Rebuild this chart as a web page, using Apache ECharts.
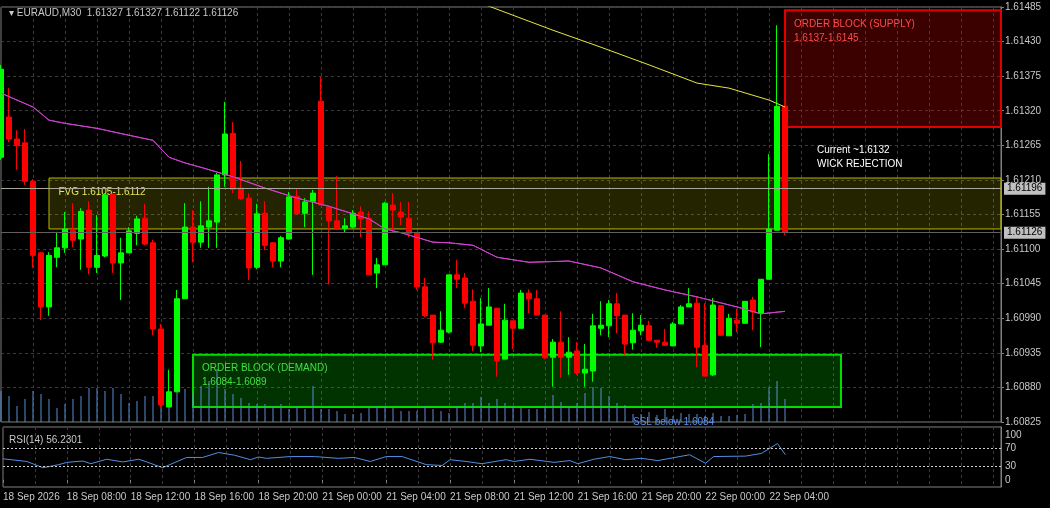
<!DOCTYPE html>
<html><head><meta charset="utf-8">
<script src="https://cdn.jsdelivr.net/npm/echarts@6/dist/echarts.min.js"></script>
<style>html,body{margin:0;padding:0;background:#000;}#c{width:1050px;height:508px;}</style>
</head><body><div id="c"></div>
<script>
// Candles: [open, close, low, high]
const candles = [
[1.61246,1.61386,1.61242,1.61393],[1.61310,1.61275,1.61270,1.61356],[1.61275,1.61265,1.61226,1.61289],[1.61269,1.61208,1.61202,1.61291],
[1.61208,1.61090,1.61070,1.61211],[1.61094,1.61008,1.60987,1.61095],[1.61008,1.61090,1.60994,1.61095],[1.61087,1.61102,1.61071,1.61127],
[1.61102,1.61132,1.61094,1.61159],[1.61130,1.61114,1.61103,1.61173],[1.61116,1.61160,1.61067,1.61165],[1.61162,1.61071,1.61060,1.61176],
[1.61071,1.61090,1.61062,1.61154],[1.61089,1.61186,1.61087,1.61189],[1.61187,1.61078,1.61062,1.61189],[1.61078,1.61094,1.61019,1.61118],
[1.61094,1.61129,1.61103,1.61135],[1.61125,1.61148,1.61106,1.61153],[1.61149,1.61108,1.61106,1.61172],[1.61110,1.60973,1.60963,1.61115],
[1.60973,1.60852,1.60849,1.60981],[1.60849,1.60873,1.60849,1.60908],[1.60873,1.61021,1.60873,1.61035],[1.61021,1.61135,1.61021,1.61173],
[1.61135,1.61111,1.61079,1.61162],[1.61111,1.61137,1.61102,1.61176],[1.61135,1.61145,1.61102,1.61199],[1.61143,1.61218,1.61102,1.61221],
[1.61218,1.61283,1.61199,1.61334],[1.61284,1.61195,1.61189,1.61302],[1.61197,1.61180,1.61178,1.61240],[1.61181,1.61070,1.61051,1.61189],
[1.61071,1.61156,1.61068,1.61172],[1.61157,1.61106,1.61098,1.61176],[1.61110,1.61081,1.61071,1.61111],[1.61081,1.61118,1.61071,1.61121],
[1.61116,1.61183,1.61115,1.61191],[1.61184,1.61156,1.61156,1.61195],[1.61157,1.61175,1.61135,1.61181],[1.61176,1.61189,1.61059,1.61194],
[1.61335,1.61170,1.61170,1.61374],[1.61167,1.61145,1.61044,1.61170],[1.61145,1.61133,1.61133,1.61216],[1.61133,1.61137,1.61127,1.61149],
[1.61135,1.61157,1.61133,1.61162],[1.61159,1.61148,1.61119,1.61168],[1.61149,1.61059,1.61059,1.61160],[1.61062,1.61075,1.61038,1.61086],
[1.61075,1.61173,1.61075,1.61175],[1.61170,1.61162,1.61127,1.61189],[1.61159,1.61151,1.61138,1.61175],[1.61149,1.61125,1.61119,1.61175],
[1.61125,1.61040,1.61035,1.61127],[1.61040,1.60994,1.60992,1.61054],[1.60995,1.60951,1.60924,1.60995],[1.60952,1.60971,1.60951,1.61001],
[1.60968,1.61059,1.60966,1.61059],[1.61059,1.61052,1.61038,1.61083],[1.61054,1.61014,1.61006,1.61062],[1.61017,1.60947,1.60938,1.61036],
[1.60946,1.60981,1.60936,1.61022],[1.60979,1.61008,1.60979,1.61038],[1.61006,1.60922,1.60897,1.61006],[1.60925,1.60987,1.60925,1.61013],
[1.60986,1.60974,1.60941,1.60986],[1.60974,1.61030,1.60974,1.61035],[1.61030,1.61021,1.60998,1.61036],[1.61021,1.60995,1.60995,1.61035],
[1.60995,1.60927,1.60925,1.60995],[1.60928,1.60952,1.60881,1.60957],[1.60952,1.60928,1.60895,1.61001],[1.60928,1.60936,1.60900,1.60960],
[1.60938,1.60903,1.60900,1.60952],[1.60903,1.60909,1.60881,1.60949],[1.60906,1.60978,1.60889,1.60997],[1.60974,1.60979,1.60963,1.61017],
[1.60978,1.61013,1.60960,1.61019],[1.61013,1.60994,1.60966,1.61030],[1.60995,1.60949,1.60932,1.60995],[1.60951,1.60971,1.60940,1.60998],
[1.60970,1.60979,1.60963,1.60995],[1.60978,1.60955,1.60955,1.60986],[1.60955,1.60952,1.60943,1.60955],[1.60952,1.60947,1.60946,1.60973],
[1.60946,1.60981,1.60946,1.60984],[1.60981,1.61008,1.60981,1.61011],[1.61008,1.61013,1.61008,1.61038],[1.61014,1.60944,1.60912,1.61024],
[1.60947,1.60898,1.60897,1.61014],[1.60900,1.61011,1.60898,1.61022],[1.61010,1.60963,1.60962,1.61010],[1.60962,1.60990,1.60962,1.60997],
[1.60987,1.60982,1.60968,1.61005],[1.60982,1.61017,1.60982,1.61017],[1.61019,1.61000,1.60971,1.61024],[1.60998,1.61052,1.60944,1.61052],
[1.61052,1.61132,1.61052,1.61251],[1.61130,1.61327,1.61130,1.61456],[1.61327,1.61126,1.61122,1.61327]
];
const volumes = [31,26,16,23,31,28,23,14,18,23,26,34,34,31,34,28,19,21,26,26,36,31,33,33,29,36,41,53,33,28,24,19,18,18,16,18,13,16,13,36,13,13,11,8,8,9,14,16,16,14,11,11,11,16,13,11,9,16,19,19,25,19,23,19,16,15,13,13,16,27,20,16,19,29,35,34,26,19,17,8,8,10,7,13,6,9,8,8,6,9,6,6,7,8,18,19,35,41,23];
// [bar index, value]
const maFast = [[0,1.61348],[4,1.61326],[6,1.61305],[8,1.61300],[12,1.61292],[16,1.61281],[19,1.61273],[21,1.61246],[23,1.61237],[25,1.61230],[29,1.61215],[33,1.61197],[37,1.61181],[41,1.61168],[46,1.61148],[48,1.61132],[50,1.61126],[54,1.61111],[56,1.61110],[59,1.61106],[62,1.61087],[66,1.61079],[71,1.61081],[75,1.61070],[79,1.61048],[83,1.61035],[87,1.61024],[92,1.61008],[95,1.60997],[98,1.61001]];
const maSlow = [[60,1.61491],[69,1.61448],[75,1.61421],[81,1.61393],[87,1.61364],[91,1.61356],[96,1.61337],[98,1.61326]];
const rsi = [[0,47],[3,41],[5,27],[7,34],[8,39],[10,42],[11,36],[13,46],[15,40],[17,46],[18,40],[20,27],[23,50],[25,50],[27,61],[29,55],[31,45],[32,51],[33,48],[36,52],[39,52],[42,48],[44,50],[46,41],[48,52],[50,52],[53,34],[55,32],[56,45],[58,41],[60,36],[63,45],[64,41],[66,46],[69,39],[71,43],[72,36],[74,46],[76,52],[78,45],[80,48],[82,43],[86,56],[88,37],[89,52],[93,53],[95,59],[97,81],[98,56]];
const timeLabels = ['18 Sep 2026','18 Sep 08:00','18 Sep 12:00','18 Sep 16:00','18 Sep 20:00','21 Sep 00:00','21 Sep 04:00','21 Sep 08:00','21 Sep 12:00','21 Sep 16:00','21 Sep 20:00','22 Sep 00:00','22 Sep 04:00'];
const priceTicks = {min:1.60825, max:1.61485, step:0.00055};
const supplyZone = {x:[98,125], y:[1.61294,1.61480], text:'ORDER BLOCK (SUPPLY)\n1.6137-1.6145'};
const fvgZone = {x:[6,125], y:[1.61132,1.61213], text:'FVG 1.6105-1.6112'};
const demandZone = {x:[24,105], y:[1.60849,1.60932], text:'ORDER BLOCK (DEMAND)\n1.6084-1.6089'};
const levels = [1.61196, 1.61126];
const noteCurrent = {x:102, y:1.61269, text:'Current ~1.6132\nWICK REJECTION'};
const noteSSL = {x:79, y:1.60833, text:'SSL below 1.6084'};

const NB = 126;
const cats = [];
for (let i=0;i<NB;i++) cats.push(i%8===0 && timeLabels[i/8] ? timeLabels[i/8] : '');
const F = 'Liberation Sans';
const grid = '#3a3a3a';
const chart = echarts.init(document.getElementById('c'));
const zone = (z, fill, border, bw, color) => [{xAxis:z.x[0], yAxis:z.y[1],
  itemStyle:{color:fill, borderColor:border, borderWidth:bw},
  label:{show:true, position:'insideTopLeft', distance:5, padding:[3,5], color:color, fontSize:10, fontFamily:F, lineHeight:14, formatter:z.text}},
  {xAxis:z.x[1], yAxis:z.y[0]}];
chart.setOption({
  backgroundColor:'#000', animation:false,
  title:[
    {text:'▾ EURAUD,M30  1.61327 1.61327 1.61122 1.61126', left:4, top:3, textStyle:{color:'#c8c8c8', fontSize:10, fontWeight:'normal', fontFamily:F}},
    {text:'RSI(14) 56.2301', left:4, top:430, textStyle:{color:'#c8c8c8', fontSize:10, fontWeight:'normal', fontFamily:F}}
  ],
  grid:[
    {left:1, right:49, top:7, height:415, show:true, borderColor:'#808080', borderWidth:1},
    {left:1, right:49, top:427, height:60, show:true, borderColor:'#808080', borderWidth:1}
  ],
  xAxis:[
    {type:'category', gridIndex:0, data:cats, boundaryGap:false, axisLabel:{show:false}, axisTick:{show:false}, axisLine:{show:false},
     splitLine:{show:true, interval:(i)=>i%4===0, lineStyle:{color:grid, type:[3,3]}}},
    {type:'category', gridIndex:1, data:cats, boundaryGap:false, axisLine:{show:false},
     axisTick:{show:true, interval:(i,v)=>v!=='', length:3, lineStyle:{color:'#808080'}},
     axisLabel:{show:true, interval:(i,v)=>v!=='', align:'left', hideOverlap:false, color:'#c8c8c8', fontSize:10, fontFamily:F, margin:5},
     splitLine:{show:true, interval:(i)=>i%4===0, lineStyle:{color:grid, type:[3,3]}}}
  ],
  yAxis:[
    {type:'value', gridIndex:0, position:'right', min:priceTicks.min, max:priceTicks.max, interval:priceTicks.step, scale:true,
     axisLine:{show:true, lineStyle:{color:'#808080'}}, axisTick:{show:true, length:3, lineStyle:{color:'#808080'}},
     axisLabel:{color:'#c8c8c8', fontSize:10, fontFamily:F, margin:4, formatter:v=>v.toFixed(5)},
     splitLine:{show:true, lineStyle:{color:grid, type:[3,3]}}},
    {type:'value', gridIndex:0, min:0, max:415, show:false, splitLine:{show:false}},
    {type:'value', gridIndex:1, position:'right', min:-16, max:118,
     axisLine:{show:true, lineStyle:{color:'#808080'}}, axisTick:{show:false},
     axisLabel:{color:'#c8c8c8', fontSize:10, fontFamily:F, margin:4, customValues:[0,30,70,100]},
     splitLine:{show:false}}
  ],
  series:[
    {type:'bar', xAxisIndex:0, yAxisIndex:1, data:volumes, barWidth:1, itemStyle:{color:'#5b8ed6'}, z:1},
    {type:'line', xAxisIndex:0, yAxisIndex:0, data:maFast, showSymbol:false, lineStyle:{color:'#d040d0', width:1}, z:2,
     markArea:{silent:true, data:[
       zone(supplyZone,'rgba(255,0,0,0.23)','#e00000',2,'#ff4a4a'),
       zone(fvgZone,'rgba(255,255,0,0.14)','#b8b800',1,'#e6e65a'),
       zone(demandZone,'rgba(0,255,0,0.2)','#00dd00',2,'#40e040')
     ]},
     markLine:{silent:true, symbol:'none', precision:5, data:[
       {yAxis:levels[0], lineStyle:{color:'#a8a898', type:'solid', width:1}},
       {yAxis:levels[1], lineStyle:{color:'#606060', type:'solid', width:1}}
     ], label:{show:true, position:'end', distance:3, formatter:p=>Number(p.value).toFixed(5), backgroundColor:'#c0c0c0', color:'#000', fontSize:10, fontFamily:F, padding:[1,3]}},
     markPoint:{silent:true, symbol:'circle', symbolSize:0, data:[
       {coord:[noteCurrent.x, noteCurrent.y], label:{show:true, position:'inside', align:'left', verticalAlign:'top', color:'#ffffff', fontSize:10, fontFamily:F, lineHeight:14, formatter:noteCurrent.text}},
       {coord:[noteSSL.x, noteSSL.y], label:{show:true, position:'inside', align:'left', verticalAlign:'top', color:'#5b8ee6', fontSize:10, fontFamily:F, formatter:noteSSL.text}}
     ]}},
    {type:'candlestick', xAxisIndex:0, yAxisIndex:0, data:candles, barWidth:5, z:3,
     itemStyle:{color:'#00ff00', color0:'#ff0000', borderColor:'#00ff00', borderColor0:'#ff0000', borderWidth:1}},
    {type:'line', xAxisIndex:0, yAxisIndex:0, data:maFast, showSymbol:false, lineStyle:{color:'#d040d0', width:1}, z:4},
    {type:'line', xAxisIndex:0, yAxisIndex:0, data:maSlow, showSymbol:false, lineStyle:{color:'#e6e640', width:1}, z:4},
    {type:'line', xAxisIndex:1, yAxisIndex:2, data:rsi, showSymbol:false, lineStyle:{color:'#4f8fe6', width:1},
     markLine:{silent:true, symbol:'none', label:{show:false}, lineStyle:{color:'#d0d0d0', type:[2,2], width:1}, data:[{yAxis:70},{yAxis:30}]}}
  ]
});
</script></body></html>
